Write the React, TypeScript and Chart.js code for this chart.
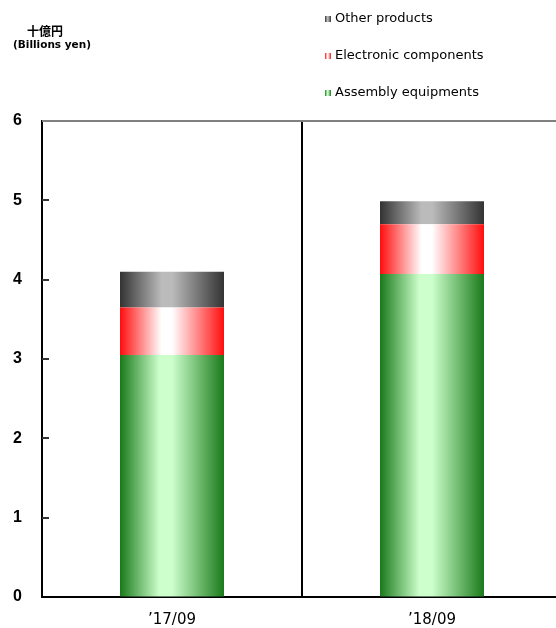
import React, { useEffect, useRef } from "react";
import { Chart, registerables } from "chart.js";

Chart.register(...registerables);

const categories = ["’17/09", "’18/09"];
const assemblyEquipments = [3.05, 4.07];
const electronicComponents = [0.6, 0.63];
const otherProducts = [0.45, 0.29];
const yTickValues = [0, 1, 2, 3, 4, 5, 6];
const unitTitle = "十億円";
const unitSubtitle = "(Billions yen)";

const BAR_FRACTION = 0.4;

type Stops = [string, string, number, number];
const greenStops: Stops = ["#1a7a1a", "#ccffcc", 0.38, 0.5];
const redStops: Stops = ["#ff0d0d", "#ffffff", 0.4, 0.5];
const grayStops: Stops = ["#333333", "#bbbbbb", 0.4, 0.5];

function makeGrad(ctx: CanvasRenderingContext2D, x0: number, x1: number, s: Stops) {
  const g = ctx.createLinearGradient(x0, 0, x1, 0);
  g.addColorStop(0, s[0]);
  g.addColorStop(s[2], s[1]);
  g.addColorStop(s[3], s[1]);
  g.addColorStop(1, s[0]);
  return g;
}

function barFill(stops: Stops) {
  return (c: any) => {
    const chart = c.chart;
    const xs = chart.scales && chart.scales.x;
    if (!xs || !chart.chartArea) return stops[0];
    const cx = xs.getPixelForValue(c.dataIndex);
    const w = (xs.width / categories.length) * BAR_FRACTION;
    return makeGrad(chart.ctx, cx - w / 2, cx + w / 2, stops);
  };
}

const decorPlugin = {
  id: "decor",
  beforeDatasetsDraw(chart: any) {
    const { ctx, chartArea } = chart;
    const ys = chart.scales.y;
    ctx.save();
    ctx.strokeStyle = "#808080";
    ctx.lineWidth = 2;
    ctx.beginPath();
    ctx.moveTo(chartArea.left, ys.getPixelForValue(6));
    ctx.lineTo(chartArea.right, ys.getPixelForValue(6));
    ctx.stroke();
    ctx.strokeStyle = "#333";
    ctx.lineWidth = 2;
    yTickValues.forEach((v) => {
      if (v === 0 || v === 6) return;
      const y = Math.round(ys.getPixelForValue(v));
      ctx.beginPath();
      ctx.moveTo(chartArea.left, y);
      ctx.lineTo(chartArea.left + 7, y);
      ctx.stroke();
    });
    ctx.restore();
  },
  afterDraw(chart: any) {
    const { ctx } = chart;
    ctx.save();
    ctx.fillStyle = "#000";
    ctx.textAlign = "center";
    ctx.textBaseline = "middle";
    ctx.font = "bold 12px 'Noto Sans CJK JP'";
    ctx.fillText(unitTitle, 45, 31);
    ctx.font = "bold 10.5px 'DejaVu Sans'";
    ctx.fillText(unitSubtitle, 52, 45);
    const ds = chart.data.datasets;
    const stopsList = [greenStops, redStops, grayStops];
    ctx.textAlign = "left";
    ctx.font = "13px 'DejaVu Sans'";
    for (let i = ds.length - 1, row = 0; i >= 0; i--, row++) {
      const yc = 19 + row * 37;
      ctx.fillStyle = makeGrad(ctx, 325, 331, stopsList[i]);
      ctx.fillRect(325, yc - 3, 6, 6);
      ctx.fillStyle = "#000";
      ctx.fillText(ds[i].label, 335, yc);
    }
    ctx.restore();
  },
};

export default function App() {
  const ref = useRef<HTMLCanvasElement>(null);
  useEffect(() => {
    if (!ref.current) return;
    const chart = new Chart(ref.current, {
      type: "bar",
      data: {
        labels: categories,
        datasets: [
          { label: "Assembly equipments", data: assemblyEquipments, backgroundColor: barFill(greenStops) as any, barPercentage: BAR_FRACTION, categoryPercentage: 1 },
          { label: "Electronic components", data: electronicComponents, backgroundColor: barFill(redStops) as any, barPercentage: BAR_FRACTION, categoryPercentage: 1 },
          { label: "Other products", data: otherProducts, backgroundColor: barFill(grayStops) as any, barPercentage: BAR_FRACTION, categoryPercentage: 1 },
        ],
      },
      options: {
        animation: false,
        responsive: false,
        devicePixelRatio: 1,
        layout: { padding: { top: 121, right: 8, left: 0, bottom: 0 } },
        plugins: { legend: { display: false }, tooltip: { enabled: false }, title: { display: false } },
        scales: {
          x: {
            stacked: true,
            offset: true,
            grid: { display: true, offset: true, color: "#000", lineWidth: 2, drawTicks: false },
            border: { display: true, color: "#000", width: 2 },
            ticks: { color: "#000", font: { family: "DejaVu Sans", size: 15 }, padding: 14 },
            afterFit: (s: any) => { s.height = 31; },
          },
          y: {
            stacked: true,
            min: 0,
            max: 6,
            ticks: {
              stepSize: 1,
              color: "#000",
              font: { family: "Liberation Sans", size: 16, weight: "bold" },
              padding: 20,
            },
            grid: { display: true, drawOnChartArea: false, drawTicks: false },
            border: { display: true, color: "#000", width: 2 },
            afterFit: (s: any) => { s.width = 42; },
          },
        },
      },
      plugins: [decorPlugin],
    });
    return () => chart.destroy();
  }, []);
  return (
    <div style={{ position: "fixed", left: 0, top: 0, width: 556, height: 628, overflow: "hidden", background: "#fff" }}>
      <canvas ref={ref} width={570} height={628} style={{ display: "block", width: 570, height: 628 }} />
    </div>
  );
}
